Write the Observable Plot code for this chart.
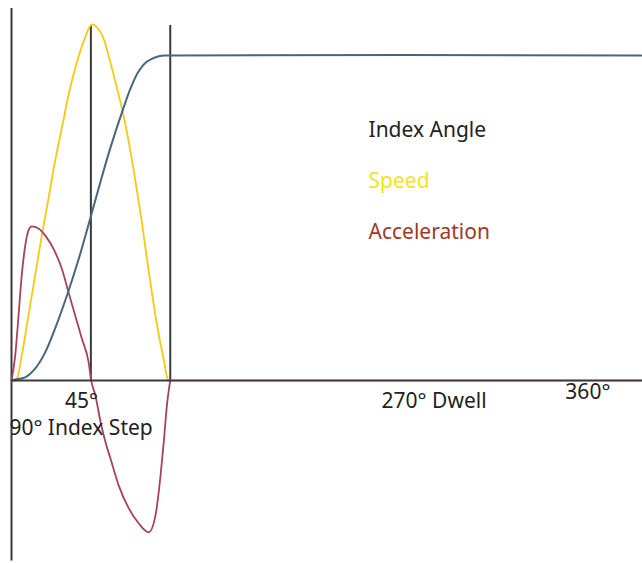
<!DOCTYPE html>
<html>
<head>
<meta charset="utf-8">
<script src="https://cdn.jsdelivr.net/npm/d3@7"></script>
<script src="https://cdn.jsdelivr.net/npm/@observablehq/plot@0.6"></script>
<style>
  html, body { margin: 0; padding: 0; background: #fff; }
  #chart svg { display: block; }
</style>
</head>
<body>
<div id="chart"></div>
<script>
// Index angle (degrees of output rotation) vs cam angle (degrees)
const angleX = [0, 2.1, 7.8, 13.4, 19.1, 24.8, 32.3, 38, 45, 51, 56.1, 63.5, 68, 72.2, 77, 83.5, 90, 357];
const angleY = [0, 0.3, 0.9, 3.3, 7.8, 14.5, 24.8, 33.5, 45.5, 56, 64.5, 75.5, 81.5, 85.7, 88.4, 89.8, 90, 90];

// Speed (relative units)
const speedX = [0, 2.5, 5.8, 9.6, 13.4, 17.2, 21, 25, 29, 33, 37, 41, 45.7, 51, 55, 59, 63, 66.5, 70, 74, 77, 80, 83, 86, 89, 90, 357];
const speedY = [0, 0, 6.9, 18, 29.1, 40.2, 50.5, 61.5, 71, 80.5, 88, 94, 98.6, 96, 90, 82.5, 74.5, 66, 56, 43.5, 33, 23, 14, 6.5, 0, 0, 0];

// Acceleration (relative units)
const accelX = [0, 2.1, 4.0, 5.8, 7.8, 9.6, 11.5, 15.3, 19.1, 24.8, 28.5, 32.3, 36.1, 39.9, 43.7, 45.2, 47.6, 50.5, 53.3, 56.1, 60.8, 66.5, 72.2, 77.8, 81.6, 84.5, 86.3, 88.3, 90];
const accelY = [0, 6.9, 18, 29.1, 37.4, 41.5, 42.7, 42.1, 40.2, 35.5, 31, 24.5, 18, 11.6, 5.1, 0, -4.2, -11.5, -17.1, -21.6, -29.1, -35.4, -39.6, -42, -37.4, -26.3, -17.1, -6, 0];

const seriesNames = ["Index Angle", "Speed", "Acceleration"];
const tickLabels = ["45°", "90° Index Step", "270° Dwell", "360°"];
const markerAngles = [45, 90];

const toRows = (xs, ys) => xs.map((x, i) => ({x, y: ys[i]}));
const angleData = toRows(angleX, angleY);
const speedData = toRows(speedX, speedY);
const accelData = toRows(accelX, accelY);

const lineColors = ["#46677b", "#f7c911", "#a8405f"];
const legendColors = ["#222222", "#f5e414", "#a0391f"];
const axisColor = "#3a3a3a";
const font = "'Noto Sans', Lato, sans-serif";
const fs = 21;

const chart = Plot.plot({
  width: 642,
  height: 563,
  style: {fontFamily: font, background: "#fff"},
  x: {domain: [0, 360], range: [11, 646], axis: null},
  y: {domain: [-50, 100], range: [560.6, 18.9], axis: null},
  marks: [
    // left axis
    Plot.ruleX([0], {y1: -50, y2: 103, stroke: axisColor, strokeWidth: 2}),
    // 45° and 90° markers
    Plot.ruleX(markerAngles, {y1: 0, y2: 98.3, stroke: axisColor, strokeWidth: 2}),
    // curves
    Plot.line(speedData, {x: "x", y: "y", stroke: lineColors[1], strokeWidth: 1.8, curve: "catmull-rom"}),
    Plot.line(accelData, {x: "x", y: "y", stroke: lineColors[2], strokeWidth: 1.8, curve: "monotone-x"}),
    Plot.line(angleData, {x: "x", y: "y", stroke: lineColors[0], strokeWidth: 2, curve: "catmull-rom"}),
    // horizontal axis
    Plot.ruleY([0], {x1: 0, x2: 358, stroke: axisColor, strokeWidth: 2}),
    // tick labels
    Plot.text([tickLabels[0]], {x: 39.7, y: -7.6, text: d => d, textAnchor: "middle", lineAnchor: "bottom", fontSize: fs, fill: "#222"}),
    Plot.text([tickLabels[1]], {x: -1.2, y: -15.2, text: d => d, textAnchor: "start", lineAnchor: "bottom", fontSize: fs, fill: "#222"}),
    Plot.text([tickLabels[2]], {x: 209.8, y: -7.6, text: d => d, textAnchor: "start", lineAnchor: "bottom", fontSize: fs, fill: "#222"}),
    Plot.text([tickLabels[3]], {x: 314, y: -5.0, text: d => d, textAnchor: "start", lineAnchor: "bottom", fontSize: fs, fill: "#222"}),
    // legend
    Plot.text(seriesNames, {
      x: 202.4,
      y: (d, i) => [67.3, 53.4, 39.3][i],
      text: d => d,
      textAnchor: "start",
      lineAnchor: "bottom",
      fontSize: fs,
      fill: (d, i) => legendColors[i]
    })
  ]
});

document.getElementById("chart").appendChild(chart);
</script>
</body>
</html>
